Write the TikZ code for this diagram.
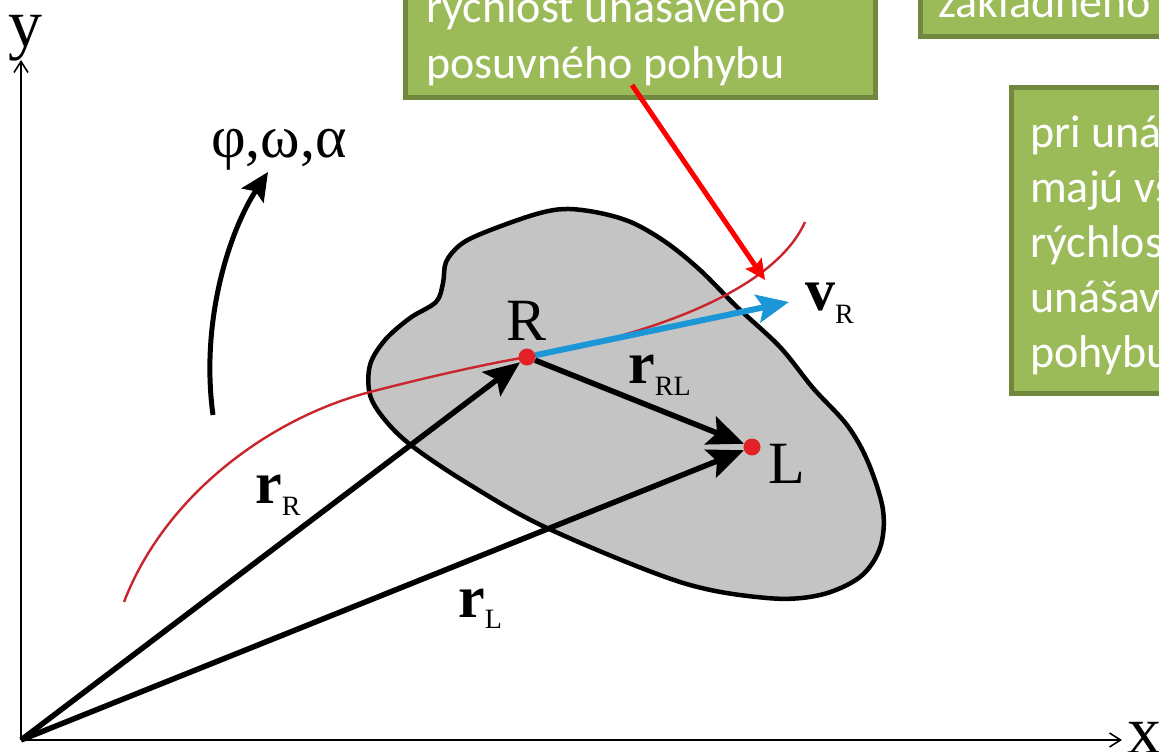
\documentclass[tikz,border=0pt]{standalone}
\usepackage{fontspec}
\setmainfont{Liberation Serif}
\newfontfamily\calfont{Carlito}
\usetikzlibrary{arrows.meta}
\definecolor{boxfill}{HTML}{9BBB59}
\definecolor{boxline}{HTML}{71893F}
\definecolor{curvered}{HTML}{C8262C}
\definecolor{dotred}{HTML}{E32227}
\definecolor{vblue}{HTML}{1B96D6}
\definecolor{bodygray}{HTML}{C4C4C4}
\begin{document}
\begin{tikzpicture}[x=1pt,y=-1pt,
  axis/.style={line width=1.6pt,-{Straight Barb[length=11pt,width=14pt]}},
  body/.style={fill=bodygray, draw=black, line width=4.5pt, line join=round},
  trajectory/.style={draw=curvered, line width=2.4pt},
  vec/.style={line width=5.5pt, -{Stealth[length=36pt,width=30pt,inset=7pt]}},
  vvec/.style={draw=vblue, line width=6pt, -{Stealth[length=32pt,width=28pt,inset=6pt]}},
  rot/.style={line width=5pt, -{Stealth[length=28pt,width=26pt,inset=5pt]}},
  pointer/.style={draw=red, line width=5pt, -{Stealth[length=20pt,width=19pt,inset=3pt]}},
  dot/.style={circle, fill=dotred, inner sep=0pt, minimum size=17pt},
  lab/.style={font=\fontsize{60}{60}\selectfont, inner sep=0pt},
  axlab/.style={font=\fontsize{68}{68}\selectfont, inner sep=0pt},
  greenbox/.style={fill=boxfill, draw=boxline, line width=5pt, inner sep=0pt},
  boxtext/.style={text=white, font=\calfont\fontsize{46}{55}\selectfont, align=left, inner sep=0pt}
]
\useasboundingbox (0,0) rectangle (1159,752);
\clip (0,0) rectangle (1159,752);
\fill[white] (0,0) rectangle (1159,752);

% axes
\coordinate (O) at (21,740);
\coordinate (xend) at (1122,740);
\coordinate (yend) at (21,60);
\draw[axis] (O) -- (xend);
\draw[axis] (O) -- (yend);
\node[axlab, anchor=base] (ylab) at (26,47) {y};
\node[axlab, anchor=base west] (xlab) at (1127,753) {x};

% rigid body
\path[body] plot[smooth cycle, tension=0.55] coordinates {
 (565,209) (600,213) (633,223) (667,243) (700,270) (737,307) (780,347)
 (813,388) (847,425) (868,462) (883,510) (880,548) (860,577) (820,595)
 (767,598) (680,582) (547,528) (467,483) (412,446) (385,420) (370,395)
 (370,365) (385,340) (410,318) (436,302) (443,283) (446,262) (460,245)
 (483,233) (533,215)};

% points
\coordinate (Rc) at (527,357);
% trajectory of R
\path[trajectory] (124,602) .. controls (165,495) and (270,418) .. (370,392)
  .. controls (420,379) and (480,365) .. (Rc)
  .. controls (620,341) and (770,300) .. (805,222);

\node[dot] (R) at (Rc) {};
\node[dot] (L) at (752,447) {};

% vectors
\draw[vec] (O) -- (R);
\draw[vec] (O) -- (L);
\draw[vec] (R) -- (L);
\coordinate (vtip) at (789,302);
\draw[vvec] (R) -- (vtip);

% labels
\node[lab, anchor=base] (Rlab) at (527,340) {R};
\node[lab, anchor=base west] (Llab) at (768,483) {L};
\node[lab, anchor=base west] (rRlab) at (255,503) {\textbf{r}\raisebox{-12pt}{\fontsize{28}{28}\selectfont R}};
\node[lab, anchor=base west] (rLlab) at (458,617) {\textbf{r}\raisebox{-11pt}{\fontsize{28}{28}\selectfont L}};
\node[lab, anchor=base west] (rRLlab) at (628,383) {\textbf{r}\raisebox{-12pt}{\fontsize{28}{28}\selectfont RL}};
\node[lab, anchor=base west] (vRlab) at (805,310) {\textbf{v}\raisebox{-13pt}{\fontsize{28}{28}\selectfont R}};

% rotation
\coordinate (rotstart) at (213,415);
\coordinate (rottip) at (268,172);
\draw[rot] (rotstart) .. controls (200,320) and (230,230) .. (rottip);
\node[font=\fontsize{60}{60}\selectfont, inner sep=0pt, anchor=base] (greek) at (279,157) {φ,ω,α};

% green boxes
\node[greenbox, minimum width=470pt, minimum height=200pt, anchor=south west] (box1) at (403,100) {};
\node[boxtext, anchor=base west] (t1) at (426,78) {rýchlosť unášavého\\posuvného pohybu};
\node[greenbox, minimum width=300pt, minimum height=200pt, anchor=south west] (box2) at (918,39) {};
\node[boxtext, anchor=base west] (t2) at (938,18) {základného};
\node[greenbox, minimum width=300pt, minimum height=306pt, anchor=north west] (box3) at (1009,85) {};
\node[boxtext, anchor=base west] (t3) at (1030,367) {pri unášavom\\majú všetky\\rýchlosť\\unášavého\\pohybu};

% pointer
\coordinate (pstart) at (632,85);
\coordinate (ptip) at (765,280);
\draw[pointer] (pstart) -- (ptip);
\end{tikzpicture}
\end{document}
